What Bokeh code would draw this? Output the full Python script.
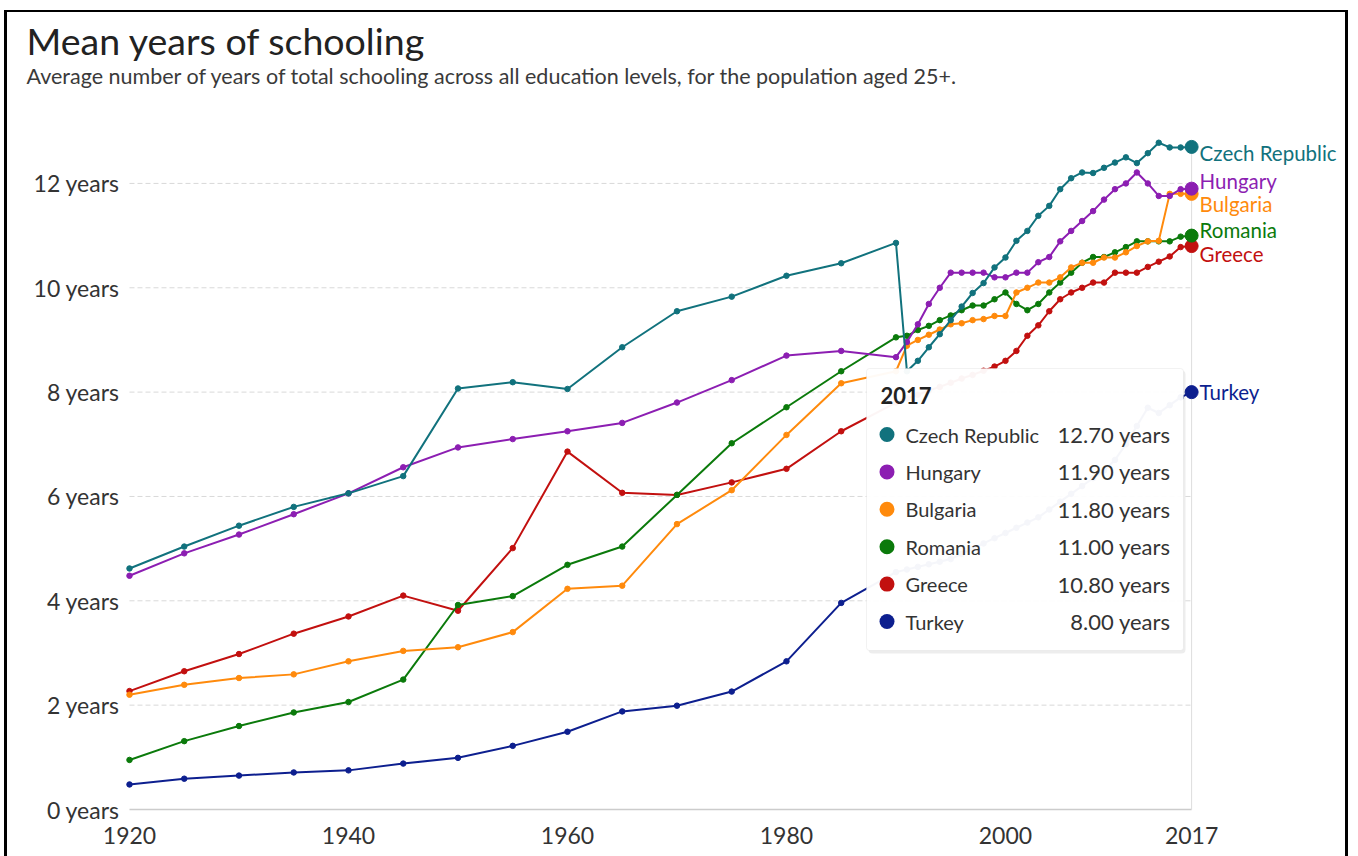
from bokeh.plotting import figure
from bokeh.models import (Range1d, FixedTicker, Title, BoxAnnotation, Label,
                          ColumnDataSource)
from bokeh.embed import file_html
from bokeh.resources import INLINE
from bokeh.core.properties import value

# ---------------- data ----------------
years = [1920, 1925, 1930, 1935, 1940, 1945, 1950, 1955, 1960, 1965, 1970, 1975, 1980, 1985, 1990,
         1991, 1992, 1993, 1994, 1995, 1996, 1997, 1998, 1999, 2000, 2001, 2002, 2003, 2004,
         2005, 2006, 2007, 2008, 2009, 2010, 2011, 2012, 2013, 2014, 2015, 2016, 2017]

countries = ["Czech Republic", "Hungary", "Bulgaria", "Romania", "Greece", "Turkey"]

czech = [4.62, 5.04, 5.44, 5.80, 6.06, 6.39, 8.07, 8.19, 8.06, 8.86, 9.55, 9.83, 10.23, 10.47, 10.86,
         8.40, 8.60, 8.86, 9.11, 9.38, 9.64, 9.90, 10.09, 10.39, 10.58, 10.90, 11.09, 11.38, 11.57,
         11.89, 12.10, 12.21, 12.20, 12.30, 12.40, 12.50, 12.39, 12.58, 12.78, 12.69, 12.69, 12.70]

hungary = [4.48, 4.91, 5.27, 5.66, 6.06, 6.56, 6.94, 7.10, 7.25, 7.41, 7.80, 8.23, 8.70, 8.79, 8.67,
           8.96, 9.30, 9.69, 10.00, 10.29, 10.29, 10.29, 10.29, 10.20, 10.20, 10.29, 10.29, 10.49, 10.59,
           10.89, 11.09, 11.28, 11.47, 11.69, 11.89, 12.00, 12.21, 12.00, 11.76, 11.76, 11.89, 11.90]

bulgaria = [2.20, 2.39, 2.52, 2.59, 2.84, 3.04, 3.11, 3.40, 4.23, 4.29, 5.47, 6.12, 7.18, 8.17, 8.40,
            8.89, 9.00, 9.10, 9.20, 9.30, 9.32, 9.38, 9.40, 9.46, 9.46, 9.91, 10.00, 10.10, 10.10,
            10.20, 10.39, 10.48, 10.48, 10.58, 10.58, 10.68, 10.80, 10.89, 10.90, 11.80, 11.80, 11.80]

romania = [0.95, 1.31, 1.60, 1.86, 2.06, 2.49, 3.92, 4.09, 4.69, 5.04, 6.03, 7.02, 7.71, 8.40, 9.05,
           9.08, 9.19, 9.27, 9.38, 9.47, 9.57, 9.66, 9.66, 9.78, 9.91, 9.69, 9.57, 9.69, 9.91,
           10.10, 10.29, 10.48, 10.59, 10.59, 10.68, 10.78, 10.89, 10.89, 10.89, 10.89, 10.98, 11.00]

greece = [2.27, 2.65, 2.98, 3.37, 3.70, 4.10, 3.81, 5.01, 6.86, 6.07, 6.03, 6.27, 6.53, 7.25, 7.80,
          7.88, 7.95, 8.03, 8.10, 8.18, 8.26, 8.33, 8.41, 8.49, 8.60, 8.79, 9.08, 9.28, 9.55,
          9.78, 9.91, 10.00, 10.10, 10.10, 10.29, 10.29, 10.29, 10.40, 10.50, 10.60, 10.78, 10.80]

turkey = [0.48, 0.59, 0.65, 0.71, 0.75, 0.88, 0.99, 1.22, 1.49, 1.88, 1.99, 2.26, 2.84, 3.96, 4.55,
          4.60, 4.65, 4.70, 4.75, 4.80, 4.90, 5.00, 5.10, 5.20, 5.30, 5.40, 5.50, 5.60, 5.75,
          5.90, 6.05, 6.20, 6.35, 6.50, 6.70, 7.00, 7.35, 7.70, 7.60, 7.75, 7.90, 8.00]

series = [czech, hungary, bulgaria, romania, greece, turkey]

x_ticks = [1920, 1940, 1960, 1980, 2000, 2017]
y_ticks = [0, 2, 4, 6, 8, 10, 12]
y_tick_labels = ["0 years", "2 years", "4 years", "6 years", "8 years", "10 years", "12 years"]
hover_year = 2017

# ---------------- style ----------------
colors = ["#11727d", "#8c1eb2", "#ff8a0c", "#0b7a0b", "#c2100f", "#0d1f8f"]
label_dy = [6, -8, 10, -6, 8, 0]          # pixel nudges for end labels
FONT = "Lato"
W, H = 1358, 856
FL, FB = 125, 812                         # frame left / bottom in page pixels

p = figure(width=W, height=H, output_backend="svg", toolbar_location=None,
           x_range=Range1d(1919.635, 2030.78), y_range=Range1d(-0.0575, 13.398),
           min_border_left=FL, min_border_right=16, min_border_top=110, min_border_bottom=H - FB)
# black screenshot frame (left, top, right) painted behind a transparent canvas
p.styles = {"box-shadow": "inset 4px 0 0 0 #fff, inset 0 10px 0 0 #fff, inset -10px 0 0 0 #fff, "
                          "inset 7px 0 0 0 #000, inset 0 12px 0 0 #000, inset -13px 0 0 0 #000",
            "background-color": "#fff"}
p.border_fill_color = None
p.background_fill_color = None
p.outline_line_color = None

# main title (outermost), subtitle, then a white spacer next to the frame
p.title.text = "Mean years of schooling"
p.title.text_font = FONT
p.title.text_font_size = "37.5px"
p.title.text_font_style = "normal"
p.title.text_color = "#222222"
p.title.align = "left"
p.title.offset = -99
p.title.standoff = -3
p.add_layout(Title(text=".", text_color="#ffffff", text_font_size="1px", standoff=20), "above")
p.add_layout(Title(text="Average number of years of total schooling across all education levels, "
                        "for the population aged 25+.",
                   text_font=FONT, text_font_size="21.5px", text_font_style="normal",
                   text_color="#3a3a3a", align="left", offset=-99, standoff=-2),
             "above")

p.xgrid.visible = False
p.ygrid.visible = False

p.xaxis.ticker = FixedTicker(ticks=x_ticks)
p.yaxis.ticker = FixedTicker(ticks=y_ticks)
p.yaxis.major_label_overrides = {t: s for t, s in zip(y_ticks, y_tick_labels)}
for ax in (p.xaxis, p.yaxis):
    ax.axis_line_color = None
    ax.major_tick_line_color = None
    ax.minor_tick_line_color = None
    ax.major_label_text_font = FONT
    ax.major_label_text_color = "#333333"
p.xaxis.major_label_text_font_size = "23px"
p.yaxis.major_label_text_font_size = "23px"
p.xaxis.major_label_standoff = 8
p.yaxis.major_label_standoff = 0

# gridlines limited to the data span
grid_y = y_ticks[1:]
p.segment(x0=[years[0]] * len(grid_y), x1=[years[-1]] * len(grid_y), y0=grid_y, y1=grid_y,
          line_color="#d9d9d9", line_width=1, line_dash="5 3")
p.segment(x0=[years[0]], x1=[years[-1]], y0=[y_ticks[0]], y1=[y_ticks[0]],
          line_color="#cccccc", line_width=1.5)
# hover line at the selected year
p.segment(x0=[hover_year], x1=[hover_year], y0=[y_ticks[0]], y1=[max(s[-1] for s in series)],
          line_color="#dddddd", line_width=1)

# series (reverse order so Czech Republic is on top)
for name, s, c in reversed(list(zip(countries, series, colors))):
    src = ColumnDataSource(dict(x=years, y=s))
    p.line("x", "y", source=src, line_color=c, line_width=2)
    p.scatter("x", "y", source=src, size=5.5, fill_color=c, line_color=c)
    p.scatter(x=[years[-1]], y=[s[-1]], size=13, fill_color=c, line_color=c)

lab_src = ColumnDataSource(dict(x=[years[-1]] * len(countries), y=[s[-1] for s in series],
                                text=countries, color=colors, dy=label_dy))
p.text("x", "y", text="text", source=lab_src, text_color="color", x_offset=8, y_offset="dy",
       text_font=value(FONT), text_font_size="20.5px", text_baseline="middle")

# ---------------- tooltip (screen units from frame bottom-left) ----------------
tl, tr, tt, tb = 741, 1058, 444, 162
p.add_layout(BoxAnnotation(left=tl + 2, right=tr + 2, top=tt - 2, bottom=tb - 3,
                           left_units="screen", right_units="screen", top_units="screen",
                           bottom_units="screen", fill_color="black", fill_alpha=0.07,
                           line_color=None, border_radius=4, level="annotation"))
p.add_layout(BoxAnnotation(left=tl, right=tr, top=tt, bottom=tb,
                           left_units="screen", right_units="screen", top_units="screen",
                           bottom_units="screen", fill_color="white", fill_alpha=0.96,
                           line_color="#d4d4d4", line_width=1, border_radius=3,
                           level="annotation"))
p.add_layout(Label(x=tl + 14, y=tt - 27, x_units="screen", y_units="screen", text=str(hover_year),
                   text_font=FONT, text_font_style="bold", text_font_size="22px",
                   text_baseline="middle", text_color="#222222"))
row_y0, row_step = tt - 66, 37.4
for i, (name, s, c) in enumerate(zip(countries, series, colors)):
    ry = row_y0 - i * row_step
    p.add_layout(BoxAnnotation(left=tl + 13, right=tl + 28, top=ry + 7.5, bottom=ry - 7.5,
                               left_units="screen", right_units="screen", top_units="screen",
                               bottom_units="screen", fill_color=c, fill_alpha=1.0,
                               line_color=None, border_radius=8, level="annotation"))
    p.add_layout(Label(x=tl + 39, y=ry, x_units="screen", y_units="screen", text=name,
                       text_font=FONT, text_font_size="20px", text_baseline="middle",
                       text_color="#333333"))
    p.add_layout(Label(x=tr - 13, y=ry, x_units="screen", y_units="screen",
                       text=f"{s[-1]:.2f} years", text_font=FONT, text_font_size="22px",
                       text_baseline="middle", text_align="right", text_color="#333333"))

open("out.html", "w").write(file_html(p, INLINE))
